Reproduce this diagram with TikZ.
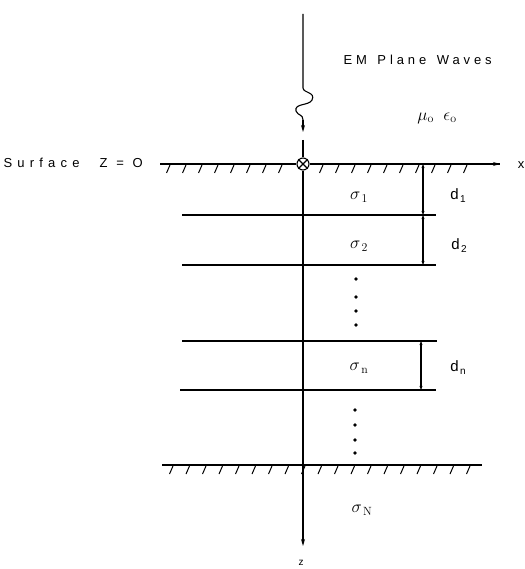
\documentclass[tikz,border=0pt]{standalone}
\usepackage{fontspec}
\setsansfont{Liberation Sans}
\usetikzlibrary{arrows.meta}
\begin{document}
\begin{tikzpicture}[x=1pt,y=-1pt,line width=1.1pt,
  lab/.style={font=\sffamily\fontsize{13}{15}\selectfont\addfontfeature{LetterSpace=30},inner sep=0pt},
  widelab/.style={font=\sffamily\fontsize{13}{15}\selectfont\addfontfeature{LetterSpace=40},inner sep=0pt},
  mlab/.style={font=\fontsize{17}{19}\selectfont,inner sep=0pt},
  dlab/.style={font=\sffamily\fontsize{15}{17}\selectfont,inner sep=0pt},
  tip/.style={-{Stealth[length=7pt,width=4pt]}},
  dtip/.style={{Stealth[length=4pt,width=3pt]}-{Stealth[length=4pt,width=3pt]}},
  hatch/.style={line width=1pt}]
\useasboundingbox (0,0) rectangle (524,569);
% key coordinates
\coordinate (top) at (303,14);
\coordinate (w1) at (303,88);
\coordinate (w2) at (303,120);
\coordinate (ar) at (303,132);
\coordinate (r1) at (303,140);
\node[draw,circle,minimum size=12pt,inner sep=0pt] (O) at (303,164) {};
\draw (O.north east) -- (O.south west) (O.north west) -- (O.south east);
\coordinate (zend) at (303,546);
% incident wave
\draw (top) -- (w1) .. controls (303,93) and (316,92) .. (312,100)
  .. controls (309,106) and (294,103) .. (296,111)
  .. controls (298,116) and (303,114) .. (w2);
\draw[tip] (w2) -- (ar);
\draw (r1) -- (O);
% z axis
\draw[tip] (O) -- (zend);
\node[font=\sffamily\fontsize{10}{11}\selectfont] (zl) at (301,563) {z};
% surface
\coordinate (s0) at (160,164);
\coordinate (s1) at (500,164);
\draw (s0) -- (O) (O) -- (s1);
\draw[tip] (480,164) -- (s1);
\foreach \x in {170,186,...,291} \draw[hatch] (\x,165) -- ++(-3.5,8);
\foreach \x in {323,339,...,481} \draw[hatch] (\x,165) -- ++(-3.5,8);
\node[widelab,anchor=west] (surf) at (3,163) {Surface\hspace{20pt}Z = O};
\node[lab,anchor=center] (xl) at (521,165) {x};
\node[lab,anchor=west] (em) at (343,60) {EM\hspace{3pt} Plane\hspace{3pt} Waves};
\node[mlab] (mu) at (437,118) {$\mu_{\mathrm o}\;\;\epsilon_{\mathrm o}$};
% layer boundaries
\coordinate (L1a) at (182,215); \coordinate (L1b) at (436,215);
\coordinate (L2a) at (182,265); \coordinate (L2b) at (436,265);
\coordinate (L3a) at (182,341); \coordinate (L3b) at (437,341);
\coordinate (L4a) at (180,390); \coordinate (L4b) at (436,390);
\coordinate (Ba) at (162,465); \coordinate (Bb) at (482,465);
\draw (L1a) -- (L1b) (L2a) -- (L2b) (L3a) -- (L3b) (L4a) -- (L4b) (Ba) -- (Bb);
\foreach \x in {173,189.5,...,470} \draw[hatch] (\x,466) -- ++(-3.5,8);
% dimension arrows
\coordinate (d1t) at (423,164); \coordinate (d1b) at (423,215);
\coordinate (d2b) at (423,265);
\coordinate (dnt) at (421,341); \coordinate (dnb) at (421,390);
\draw[dtip] (d1t) -- (d1b);
\draw[dtip] (d1b) -- (d2b);
\draw[dtip] (dnt) -- (dnb);
\node[dlab] (d1) at (458,196) {d\hspace{1.5pt}\raisebox{-3pt}{\fontsize{10}{11}\selectfont 1}};
\node[dlab] (d2) at (459,246) {d\hspace{1.5pt}\raisebox{-3pt}{\fontsize{10}{11}\selectfont 2}};
\node[dlab] (dn) at (458,368) {d\hspace{1.5pt}\raisebox{-3pt}{\fontsize{10}{11}\selectfont n}};
% conductivities
\node[mlab] (s1l) at (359,197) {$\sigma_{\,\mathrm 1}$};
\node[mlab] (s2l) at (359,246) {$\sigma_{\,\mathrm 2}$};
\node[mlab] (snl) at (359,368) {$\sigma_{\,\mathrm n}$};
\node[mlab] (sNl) at (362,510) {$\sigma_{\,\mathrm N}$};
% dots
\foreach \y in {279,297,311,325} \fill (356,\y) circle (1.8pt);
\foreach \y in {410,425,440,453} \fill (355,\y) circle (1.8pt);
\end{tikzpicture}
\end{document}
